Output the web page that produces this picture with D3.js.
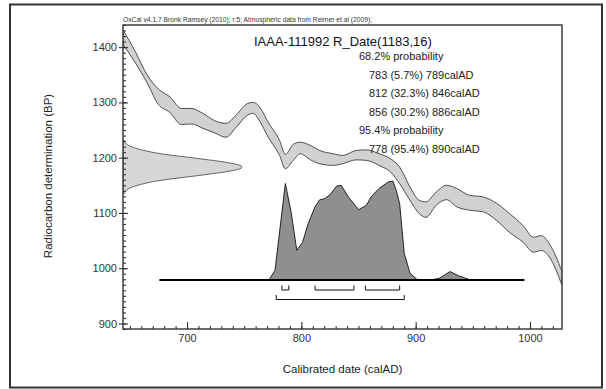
<!DOCTYPE html>
<html>
<head>
<meta charset="utf-8">
<script src="https://cdn.jsdelivr.net/npm/d3@7"></script>
<style>
  html, body { margin: 0; padding: 0; background: #fff; }
  svg { display: block; font-family: "Liberation Sans", Arial, sans-serif; }
</style>
</head>
<body>
<svg id="chart" width="606" height="389"></svg>
<script>
// ---------------- data ----------------
const calYears = [644, 655, 665, 675, 685, 695, 704, 714, 724, 734, 743, 753, 758, 763, 771, 781, 786, 793, 799, 808, 816, 828, 836, 848, 857, 868, 878, 886, 895, 903, 909, 918, 927, 936, 947, 959, 971, 982, 994, 1003, 1010, 1017, 1028];
const calUpper = [1431, 1391, 1350, 1324, 1310, 1289, 1289, 1280, 1267, 1262, 1277, 1298, 1300, 1293, 1264, 1231, 1206, 1224, 1228, 1222, 1213, 1207, 1204, 1213, 1214, 1207, 1198, 1183, 1147, 1123, 1120, 1138, 1150, 1144, 1132, 1129, 1117, 1099, 1077, 1056, 1059, 1044, 994];
const calLower = [1405, 1371, 1336, 1296, 1282, 1260, 1261, 1253, 1245, 1237, 1255, 1277, 1280, 1268, 1237, 1204, 1180, 1195, 1207, 1196, 1189, 1186, 1189, 1196, 1195, 1186, 1174, 1153, 1123, 1099, 1092, 1114, 1124, 1111, 1105, 1102, 1086, 1065, 1047, 1029, 1032, 1020, 969];

// measured radiocarbon date distribution (on the BP axis)
const rBP   = [1231, 1223, 1215, 1207, 1199, 1191, 1187, 1183, 1179, 1175, 1167, 1159, 1151, 1143, 1135];
const rProb = [0.01, 0.04, 0.14, 0.32, 0.61, 0.88, 0.97, 1.0, 0.97, 0.88, 0.61, 0.32, 0.14, 0.04, 0.01];

// calibrated date distribution
const probYears  = [676, 770, 772, 777, 786, 791, 796, 801, 806, 812, 816, 820, 825, 831, 835, 841, 847, 850, 857, 861, 868, 876, 880, 883, 886, 890, 895, 901, 905, 915, 921, 930, 938, 947, 960, 995];
const probValues = [0, 0, 0.005, 0.10, 0.975, 0.69, 0.30, 0.38, 0.57, 0.74, 0.81, 0.82, 0.86, 0.95, 0.955, 0.84, 0.755, 0.71, 0.755, 0.84, 0.925, 0.99, 1.0, 0.906, 0.77, 0.27, 0.07, 0.007, 0, 0.003, 0.02, 0.085, 0.04, 0.005, 0, 0];

const ranges68 = [[783, 789], [812, 846], [856, 886]];
const ranges95 = [[778, 890]];

const xTicks = [700, 800, 900, 1000];
const yTicks = [900, 1000, 1100, 1200, 1300, 1400];

const headerText = "OxCal v4.1.7 Bronk Ramsey (2010); r:5; Atmospheric data from Reimer et al (2009);";
const titleText = "IAAA-111992 R_Date(1183,16)";
const probLines = [
  {t: "68.2% probability", indent: 0},
  {t: "783 (5.7%) 789calAD", indent: 1},
  {t: "812 (32.3%) 846calAD", indent: 1},
  {t: "856 (30.2%) 886calAD", indent: 1},
  {t: "95.4% probability", indent: 0},
  {t: "778 (95.4%) 890calAD", indent: 1}
];
const xLabel = "Calibrated date (calAD)";
const yLabel = "Radiocarbon determination (BP)";

// ---------------- layout ----------------
const L = 123, R = 562, T = 25, B = 329;
const svg = d3.select("#chart");

const x = d3.scaleLinear().domain([644, 1028]).range([L, R]);
const y = d3.scaleLinear().domain([890, 1440]).range([B, T]);
const hScale = d3.scaleLinear().domain([0, 1]).range([280, 181]);
const dScale = d3.scaleLinear().domain([0, 1]).range([L, 242]);

// outer frame
svg.append("rect").attr("x", 10).attr("y", 4.5).attr("width", 592).attr("height", 383)
  .attr("fill", "none").attr("stroke", "#333").attr("stroke-width", 2);

svg.append("defs").append("clipPath").attr("id", "plotclip")
  .append("rect").attr("x", L).attr("y", T).attr("width", R - L).attr("height", B - T);

const plot = svg.append("g").attr("clip-path", "url(#plotclip)");

// calibration curve band
const calData = calYears.map((yr, i) => ({yr, up: calUpper[i], lo: calLower[i]}));
plot.append("path")
  .datum(calData)
  .attr("d", d3.area().x(d => x(d.yr)).y0(d => y(d.lo)).y1(d => y(d.up)).curve(d3.curveMonotoneX))
  .attr("fill", "#d1d1d3").attr("stroke", "#4d4d4d").attr("stroke-width", 1);

// radiocarbon distribution on the y axis
const rData = rBP.map((bp, i) => ({bp, p: rProb[i]}));
plot.append("path")
  .datum(rData)
  .attr("d", d3.area().y(d => y(d.bp)).x0(L).x1(d => dScale(d.p)).curve(d3.curveMonotoneY))
  .attr("fill", "#d6d6d6").attr("stroke", "#555").attr("stroke-width", 0.9);

// calibrated distribution
const pData = probYears.map((yr, i) => ({yr, p: probValues[i]}));
plot.append("path")
  .datum(pData)
  .attr("d", d3.area().x(d => x(d.yr)).y0(hScale(0)).y1(d => hScale(d.p)))
  .attr("fill", "#8f8f91").attr("stroke", "#111").attr("stroke-width", 0.9).attr("stroke-linejoin", "round");
plot.append("path")
  .datum([probYears[0], probYears[probYears.length - 1]])
  .attr("d", d3.line().x(d => x(d)).y(hScale(0)))
  .attr("stroke", "#000").attr("stroke-width", 2);

// range brackets
function bracket(r, yb) {
  return `M${x(r[0])},${yb - 4.5}V${yb}H${x(r[1])}V${yb - 4.5}`;
}
plot.selectAll(".r68").data(ranges68).join("path").attr("class", "r68")
  .attr("d", d => bracket(d, 290)).attr("fill", "none").attr("stroke", "#111").attr("stroke-width", 1);
plot.selectAll(".r95").data(ranges95).join("path").attr("class", "r95")
  .attr("d", d => bracket(d, 299.5)).attr("fill", "none").attr("stroke", "#111").attr("stroke-width", 1);

// plot frame
svg.append("rect").attr("x", L).attr("y", T).attr("width", R - L).attr("height", B - T)
  .attr("fill", "none").attr("stroke", "#333").attr("stroke-width", 1.4);

// axes
const axisColor = "#333";
function styleAxis(g) {
  g.select(".domain").remove();
  g.selectAll("line").attr("stroke", axisColor).attr("stroke-width", 1.1);
  g.selectAll("text").attr("fill", "#333").style("font-size", "11px").style("font-family", "'Liberation Sans', Arial, sans-serif");
}
// y minor
svg.append("g").attr("transform", `translate(${L},0)`)
  .call(d3.axisRight(y).tickValues(d3.range(890, 1441, 10)).tickSize(3).tickFormat(""))
  .call(styleAxis);
// y major (inward part)
svg.append("g").attr("transform", `translate(${L},0)`)
  .call(d3.axisRight(y).tickValues(yTicks).tickSize(5).tickFormat(""))
  .call(styleAxis);
// y major (outward part + labels)
svg.append("g").attr("transform", `translate(${L},0)`)
  .call(d3.axisLeft(y).tickValues(yTicks).tickSizeInner(4).tickSizeOuter(0).tickPadding(2).tickFormat(d3.format("d")))
  .call(styleAxis);
// x minor
svg.append("g").attr("transform", `translate(0,${B})`)
  .call(d3.axisTop(x).tickValues(d3.range(650, 1028, 10)).tickSize(3).tickFormat(""))
  .call(styleAxis);
// x major
svg.append("g").attr("transform", `translate(0,${B})`)
  .call(d3.axisTop(x).tickValues(xTicks).tickSize(7).tickFormat(""))
  .call(styleAxis);
svg.append("g").attr("transform", `translate(0,${B})`)
  .call(d3.axisBottom(x).tickValues(xTicks).tickSize(0).tickPadding(5.5).tickFormat(d3.format("d")))
  .call(styleAxis);

// axis titles
svg.append("text").attr("x", (L + R) / 2).attr("y", 373).attr("text-anchor", "middle")
  .attr("fill", "#222").style("font-size", "11.5px").text(xLabel);
svg.append("text").attr("transform", `translate(52,176) rotate(-90)`).attr("text-anchor", "middle")
  .attr("fill", "#222").style("font-size", "11.5px").text(yLabel);

// header
svg.append("text").attr("x", L).attr("y", 22).attr("fill", "#333")
  .attr("textLength", 249).attr("lengthAdjust", "spacingAndGlyphs")
  .style("font-size", "6.4px").text(headerText);

// title & probability lines
svg.append("text").attr("x", 254).attr("y", 46).attr("fill", "#111")
  .style("font-size", "13px").text(titleText);
svg.selectAll(".pl").data(probLines).join("text").attr("class", "pl")
  .attr("x", d => d.indent ? 369 : 359)
  .attr("y", (d, i) => 60 + i * 18.5)
  .attr("fill", "#222").style("font-size", "11px")
  .text(d => d.t);
</script>
</body>
</html>
